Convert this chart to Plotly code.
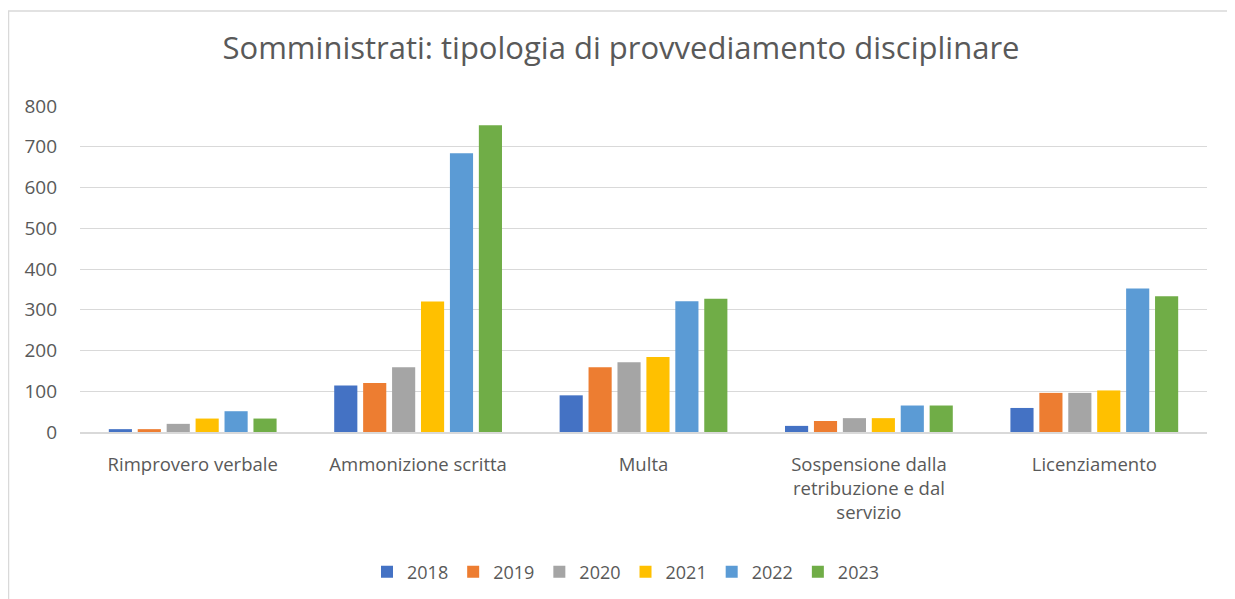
import plotly.graph_objects as go

categories = ["Rimprovero verbale", "Ammonizione scritta", "Multa",
              "Sospensione dalla<br>retribuzione e dal<br>servizio", "Licenziamento"]
years = ["2018", "2019", "2020", "2021", "2022", "2023"]
v2018 = [7, 114, 90, 15, 59]
v2019 = [7, 120, 159, 27, 96]
v2020 = [20, 159, 171, 34, 96]
v2021 = [33, 320, 184, 34, 102]
v2022 = [51, 684, 321, 65, 352]
v2023 = [33, 753, 327, 65, 333]
series = [v2018, v2019, v2020, v2021, v2022, v2023]
colors = ["#4472C4", "#ED7D31", "#A5A5A5", "#FFC000", "#5B9BD5", "#70AD47"]
yticks = [0, 100, 200, 300, 400, 500, 600, 700, 800]

# page body has an 8px margin: work in window pixels, then shift
OFF = 8
W, H = 1235 - OFF, 599 - OFF
L, R, T, B = 80 - OFF, 28, 106 - OFF, 167
pw, ph = W - L - R, H - T - B

fig = go.Figure()
for y, vals, c in zip(years, series, colors):
    fig.add_trace(go.Bar(x=categories, y=vals, name=y, marker=dict(color=c, line=dict(width=0))))

def px(x):  # window pixel -> paper
    return (x - OFF - L) / pw

def py(y):
    return (H - B - (y - OFF)) / ph

font = "'Open Sans', sans-serif"
fig.update_layout(
    width=W, height=H,
    margin=dict(l=L, r=R, t=T, b=B, autoexpand=False),
    paper_bgcolor="white", plot_bgcolor="white",
    barmode="group", bargap=0.23, bargroupgap=0.2,
    title=dict(text="Somministrati: tipologia di provvediamento disciplinare",
               x=px(621), xanchor="center", xref="paper", y=1 - (48 - OFF) / H, yanchor="middle",
               font=dict(family=font, size=31, color="#595959")),
    font=dict(family=font, size=19, color="#595959"),
    legend=dict(orientation="h", xref="container", yref="container",
                x=(626 - OFF) / W, xanchor="center",
                y=1 - (572 - OFF) / H, yanchor="middle", font=dict(size=18, color="#595959"),
                itemwidth=30, traceorder="normal"),
    xaxis=dict(showline=True, linecolor="#d9d9d9", linewidth=1.5, ticks="",
               tickfont=dict(size=18.5, color="#595959"), ticklabelstandoff=15),
    yaxis=dict(range=[0, 800], tickvals=yticks, showgrid=True, gridcolor="#d9d9d9",
               gridwidth=1.3, zeroline=False, tickfont=dict(size=19, color="#595959"),
               ticklabelstandoff=22),
    shapes=[
        dict(type="line", xref="paper", yref="paper", x0=px(8), x1=px(1240), y0=py(11), y1=py(11),
             line=dict(color="#d9d9d9", width=1.5)),
        dict(type="line", xref="paper", yref="paper", x0=px(8.5), x1=px(8.5), y0=py(11), y1=py(605),
             line=dict(color="#d9d9d9", width=1.5)),
    ],
)
fig.write_html("out.html")
